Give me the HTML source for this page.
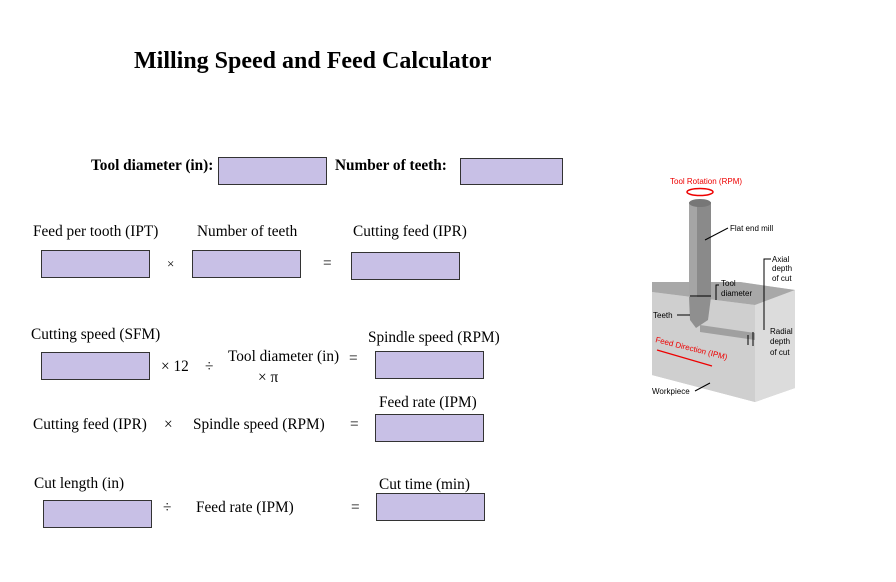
<!DOCTYPE html>
<html><head><style>
body{margin:0;width:896px;height:582px;background:#fff;position:relative;overflow:hidden;font-family:"Liberation Serif",serif;font-size:15.3px;color:#000}
.t{position:absolute;white-space:nowrap;line-height:18px}
.b{position:absolute;background:#c8c0e6;border:1px solid #333;box-sizing:border-box;width:109px;height:28px}
</style></head><body>
<div class="t" style="left:134px;top:47px;font-size:24px;font-weight:bold;line-height:28px">Milling Speed and Feed Calculator</div>

<div class="t" style="left:91px;top:157px;font-weight:bold;font-size:15.3px">Tool diameter (in):</div>
<div class="b" style="left:218px;top:157px"></div>
<div class="t" style="left:335px;top:157px;font-weight:bold;font-size:15.3px">Number of teeth:</div>
<div class="b" style="left:460px;top:158px;width:103px;height:27px"></div>

<div class="t" style="left:33px;top:223px">Feed per tooth (IPT)</div>
<div class="t" style="left:197px;top:223px">Number of teeth</div>
<div class="t" style="left:353px;top:223px">Cutting feed (IPR)</div>
<div class="b" style="left:41px;top:250px"></div>
<div class="t" style="left:167px;top:255px;font-size:13px">×</div>
<div class="b" style="left:192px;top:250px"></div>
<div class="t" style="left:323px;top:255px">=</div>
<div class="b" style="left:351px;top:252px"></div>

<div class="t" style="left:31px;top:326px">Cutting speed (SFM)</div>
<div class="t" style="left:368px;top:329px">Spindle speed (RPM)</div>
<div class="b" style="left:41px;top:352px"></div>
<div class="t" style="left:161px;top:358px">× 12</div>
<div class="t" style="left:205px;top:358px">÷</div>
<div class="t" style="left:228px;top:348px">Tool diameter (in)</div>
<div class="t" style="left:258px;top:369px">× π</div>
<div class="t" style="left:349px;top:350px">=</div>
<div class="b" style="left:375px;top:351px"></div>

<div class="t" style="left:379px;top:394px">Feed rate (IPM)</div>
<div class="t" style="left:33px;top:416px">Cutting feed (IPR)</div>
<div class="t" style="left:164px;top:416px">×</div>
<div class="t" style="left:193px;top:416px">Spindle speed (RPM)</div>
<div class="t" style="left:350px;top:416px">=</div>
<div class="b" style="left:375px;top:414px"></div>

<div class="t" style="left:34px;top:475px">Cut length (in)</div>
<div class="t" style="left:379px;top:476px">Cut time (min)</div>
<div class="b" style="left:43px;top:500px"></div>
<div class="t" style="left:163px;top:499px">÷</div>
<div class="t" style="left:196px;top:499px">Feed rate (IPM)</div>
<div class="t" style="left:351px;top:499px">=</div>
<div class="b" style="left:376px;top:493px"></div>

<svg style="position:absolute;left:640px;top:170px" width="170" height="240">
<polygon points="12,112 100,112 155,120 155,218 115,232 12,205" fill="#c9c9c9"/>
<polygon points="12,112 100,112 155,120 115,135 12,122" fill="#a8a8a8"/>
<polygon points="115,135 155,120 155,218 115,232" fill="#dcdcdc"/>
<polygon points="12,122 115,135 115,232 12,205" fill="#cfcfcf"/>
<polygon points="60,155 115,163 115,170 60,162" fill="#a0a0a0"/>
<rect x="49" y="32" width="22" height="95" fill="#8a8a8a"/>
<rect x="49" y="32" width="8" height="95" fill="#a5a5a5"/>
<ellipse cx="60" cy="33" rx="11" ry="4" fill="#777"/>
<path d="M49,127 L71,127 L68,150 L56,158 L50,150 Z" fill="#8f8f8f"/>
<text x="30" y="14" fill="#e00" font-family="Liberation Sans" font-size="8">Tool Rotation (RPM)</text>
<ellipse cx="60" cy="22" rx="13" ry="3.5" fill="none" stroke="#e00" stroke-width="1.5"/>
<text x="90" y="61" font-family="Liberation Sans" font-size="8">Flat end mill</text>
<line x1="88" y1="58" x2="65" y2="70" stroke="#000"/>
<text x="132" y="92" font-family="Liberation Sans" font-size="8">Axial</text>
<text x="132" y="101" font-family="Liberation Sans" font-size="8">depth</text>
<text x="132" y="111" font-family="Liberation Sans" font-size="8">of cut</text>
<polyline points="131,89 124,89 124,160" fill="none" stroke="#000"/>
<text x="81" y="116" font-family="Liberation Sans" font-size="8">Tool</text>
<text x="81" y="126" font-family="Liberation Sans" font-size="8">diameter</text>
<line x1="50" y1="126" x2="71" y2="126" stroke="#000"/>
<polyline points="79,115 76,115 76,130" fill="none" stroke="#000"/>
<text x="13" y="148" font-family="Liberation Sans" font-size="8">Teeth</text>
<line x1="37" y1="145" x2="50" y2="145" stroke="#000"/>
<text x="130" y="164" font-family="Liberation Sans" font-size="8">Radial</text>
<text x="130" y="174" font-family="Liberation Sans" font-size="8">depth</text>
<text x="130" y="185" font-family="Liberation Sans" font-size="8">of cut</text>
<line x1="108" y1="165" x2="108" y2="175" stroke="#000"/>
<line x1="113" y1="162" x2="113" y2="176" stroke="#000"/>
<text x="15" y="172" fill="#e00" font-family="Liberation Sans" font-size="8" transform="rotate(14 15 172)">Feed Direction (IPM)</text>
<line x1="17" y1="180" x2="72" y2="196" stroke="#e00" stroke-width="1.2"/>
<text x="12" y="224" font-family="Liberation Sans" font-size="8">Workpiece</text>
<line x1="55" y1="221" x2="70" y2="213" stroke="#000"/>
</svg>
</body></html>
